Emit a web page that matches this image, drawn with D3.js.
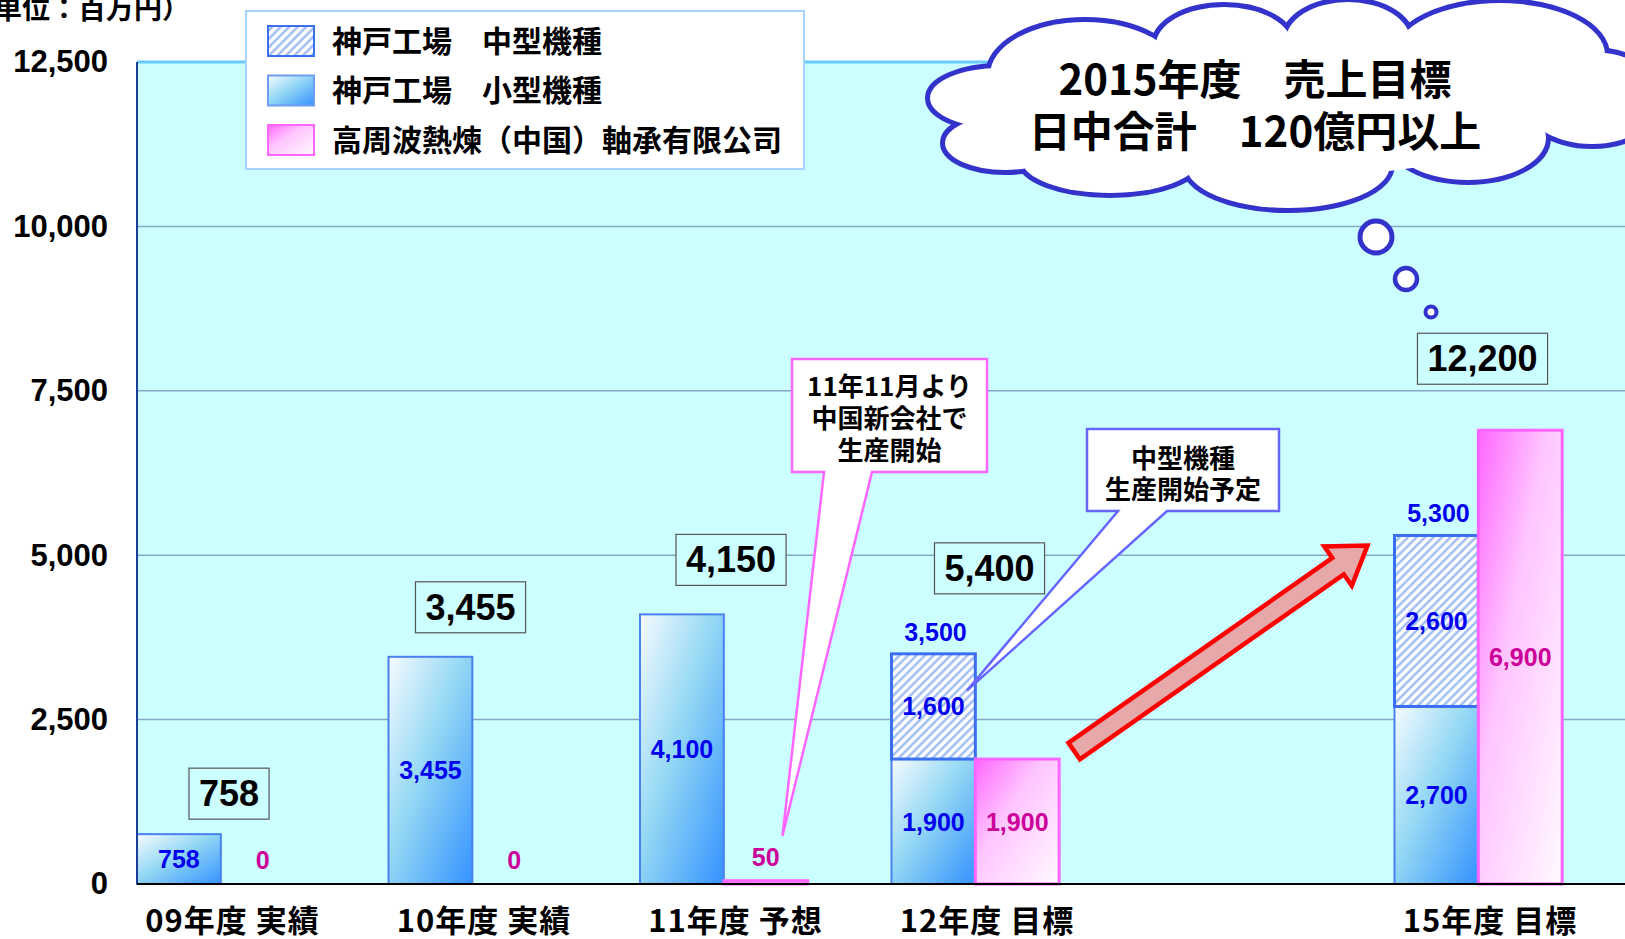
<!DOCTYPE html>
<html>
<head>
<meta charset="utf-8">
<script src="https://cdn.jsdelivr.net/npm/d3@7/dist/d3.min.js"></script>
<style>
  body { margin: 0; background: #fff; }
  svg text { font-family: "Liberation Sans", Arial, sans-serif; font-weight: bold; }
  svg text.jp { font-family: "Noto Sans CJK JP", sans-serif; font-weight: bold; }
</style>
</head>
<body>
<div id="chart"></div>
<script>
// ---- data ----
var years = ["09", "10", "11", "12", "15"];
var bandKeys = ["09", "10", "11", "12", "13-14", "15"];   // 13-14 is an empty slot
var categories = ["09年度 実績", "10年度 実績", "11年度 予想", "12年度 目標", "15年度 目標"];
var kobeSmall = [758, 3455, 4100, 1900, 2700];
var kobeMid = [0, 0, 0, 1600, 2600];
var china = [0, 0, 50, 1900, 6900];
var totals = [758, 3455, 4150, 5400, 12200];
var yTicks = [0, 2500, 5000, 7500, 10000, 12500];
var seriesNames = ["神戸工場　中型機種", "神戸工場　小型機種", "高周波熱煉（中国）軸承有限公司"];
var unitLabel = "（単位：百万円）";
var chinaNote = ["11年11月より", "中国新会社で", "生産開始"];
var midNote = ["中型機種", "生産開始予定"];
var cloudText = ["2015年度　売上目標", "日中合計　120億円以上"];

// ---- layout ----
var fullwidth = 1625, fullheight = 939;
var margin = {top: 62, left: 137, bottom: 55};
var plotBottom = fullheight - margin.bottom;
var boxGap = [15, 24, 29, 60, 46];   // space between stack top and total box
var boxShift = [4, -6, 3, 10, 0];     // small horizontal nudges of the total boxes

var svg = d3.select("#chart").append("svg")
    .attr("width", fullwidth)
    .attr("height", fullheight);

var xScale = d3.scaleBand()
    .domain(bandKeys)
    .range([margin.left, margin.left + 6 * 251.5])
    .padding(0);
var bw = xScale.bandwidth() / 3;

var yScale = d3.scaleLinear()
    .domain([0, 12500])
    .range([plotBottom, margin.top]);

var fmt = d3.format(",");

// gradients + hatch
var defs = svg.append("defs");
var bg = defs.append("linearGradient").attr("id", "blueGrad")
    .attr("x1", 0).attr("y1", 0).attr("x2", 1).attr("y2", 1);
bg.append("stop").attr("offset", "0%").attr("stop-color", "#f6fbff");
bg.append("stop").attr("offset", "45%").attr("stop-color", "#94d8f4");
bg.append("stop").attr("offset", "100%").attr("stop-color", "#3592ff");

var pg = defs.append("linearGradient").attr("id", "pinkGrad")
    .attr("x1", 0).attr("y1", 0).attr("x2", 1).attr("y2", 1);
pg.append("stop").attr("offset", "0%").attr("stop-color", "#ff66ff");
pg.append("stop").attr("offset", "40%").attr("stop-color", "#ffc4ff");
pg.append("stop").attr("offset", "100%").attr("stop-color", "#fffaff");

var hatch = defs.append("pattern").attr("id", "hatch")
    .attr("patternUnits", "userSpaceOnUse")
    .attr("width", 6).attr("height", 6)
    .attr("patternTransform", "rotate(45)");
hatch.append("rect").attr("width", 6).attr("height", 6).attr("fill", "#ffffff");
hatch.append("line").attr("x1", 1.5).attr("y1", 0).attr("x2", 1.5).attr("y2", 6)
    .attr("stroke", "#95b4f4").attr("stroke-width", 2.2);

// plot background
svg.append("rect")
    .attr("x", margin.left).attr("y", margin.top)
    .attr("width", fullwidth - margin.left)
    .attr("height", plotBottom - margin.top)
    .attr("fill", "#ccffff");

// grid
svg.append("g").selectAll("line.grid")
    .data(yTicks.filter(function(d) { return d > 0 && d < 12500; }))
    .enter().append("line")
    .attr("class", "grid")
    .attr("x1", margin.left).attr("x2", fullwidth)
    .attr("y1", function(d) { return yScale(d); })
    .attr("y2", function(d) { return yScale(d); })
    .attr("stroke", "#86a6c8").attr("stroke-width", 1.5);

svg.append("line")
    .attr("x1", margin.left).attr("x2", fullwidth)
    .attr("y1", yScale(12500)).attr("y2", yScale(12500))
    .attr("stroke", "#66ccff").attr("stroke-width", 3);

// bars
var bars = svg.append("g");
years.forEach(function(k, i) {
    var x0 = xScale(k);
    bars.append("rect")
        .attr("x", x0).attr("y", yScale(kobeSmall[i]))
        .attr("width", bw).attr("height", yScale(0) - yScale(kobeSmall[i]))
        .attr("fill", "url(#blueGrad)")
        .attr("stroke", "#4a80f0").attr("stroke-width", 2);
    if (kobeMid[i] > 0) {
        bars.append("rect")
            .attr("x", x0).attr("y", yScale(kobeSmall[i] + kobeMid[i]))
            .attr("width", bw)
            .attr("height", yScale(kobeSmall[i]) - yScale(kobeSmall[i] + kobeMid[i]))
            .attr("fill", "url(#hatch)")
            .attr("stroke", "#3b6ff0").attr("stroke-width", 3);
    }
    if (china[i] > 0) {
        bars.append("rect")
            .attr("x", x0 + bw).attr("y", yScale(china[i]))
            .attr("width", bw).attr("height", yScale(0) - yScale(china[i]))
            .attr("fill", "url(#pinkGrad)")
            .attr("stroke", "#ff66ff").attr("stroke-width", 3);
    }
});

// value labels
var labels = svg.append("g").attr("font-size", 25);
years.forEach(function(k, i) {
    var cx = xScale(k) + bw / 2;
    labels.append("text")
        .attr("x", cx).attr("y", yScale(kobeSmall[i] / 2)).attr("dy", "0.36em")
        .attr("text-anchor", "middle").attr("fill", "#0000ee")
        .text(fmt(kobeSmall[i]));
    if (kobeMid[i] > 0) {
        labels.append("text")
            .attr("x", cx).attr("y", yScale(kobeSmall[i] + kobeMid[i] / 2)).attr("dy", "0.36em")
            .attr("text-anchor", "middle").attr("fill", "#0000ee")
            .text(fmt(kobeMid[i]));
        labels.append("text")
            .attr("x", cx + 2).attr("y", yScale(kobeSmall[i] + kobeMid[i]) - 22).attr("dy", "0.36em")
            .attr("text-anchor", "middle").attr("fill", "#0000ee")
            .text(fmt(kobeSmall[i] + kobeMid[i]));
    }
    var cy = china[i] >= 500 ? yScale(china[i] / 2) : yScale(china[i]) - 24;
    labels.append("text")
        .attr("x", cx + bw).attr("y", cy).attr("dy", "0.36em")
        .attr("text-anchor", "middle").attr("fill", "#cc0099")
        .text(fmt(china[i]));
});

// total boxes
years.forEach(function(k, i) {
    var cx = xScale(k) + xScale.bandwidth() * 0.35 + boxShift[i];
    var top = yScale(Math.max(kobeSmall[i] + kobeMid[i], china[i]));
    var bottom = top - boxGap[i];
    var g = svg.append("g");
    var t = g.append("text")
        .attr("x", cx).attr("y", bottom - 13)
        .attr("text-anchor", "middle").attr("font-size", 36)
        .attr("fill", "#000")
        .text(fmt(totals[i]));
    var bb = t.node().getBBox();
    g.insert("rect", "text")
        .attr("x", bb.x - 10).attr("y", bottom - 51)
        .attr("width", bb.width + 20).attr("height", 51)
        .attr("fill", "#ccffff")
        .attr("stroke", "#555").attr("stroke-width", 1.2);
});

// callouts
function callout(box, base, tip, stroke, lines, size, firstBase, step) {
    var pts = [[box[0], box[1]], [box[2], box[1]], [box[2], box[3]],
               [base[1], box[3]], tip, [base[0], box[3]], [box[0], box[3]]];
    svg.append("path")
        .attr("d", "M" + pts.join("L") + "Z")
        .attr("fill", "#fff").attr("stroke", stroke).attr("stroke-width", 2.5)
        .attr("stroke-linejoin", "miter");
    svg.append("g").selectAll("text")
        .data(lines).enter().append("text")
        .attr("class", "jp")
        .attr("x", (box[0] + box[2]) / 2)
        .attr("y", function(d, j) { return firstBase + j * step; })
        .attr("text-anchor", "middle").attr("font-size", size)
        .attr("fill", "#000")
        .text(function(d) { return d; });
}

callout([792, 359, 987, 472], [824, 872],
        [xScale("11") + bw * 1.7, yScale(china[2]) - 45],
        "#ff66ff", chinaNote, 26, 396, 32);
callout([1087, 429, 1279, 511], [1118, 1167],
        [xScale("12") + bw * 0.9, yScale(kobeSmall[3] + kobeMid[3] * 0.65)],
        "#6666ff", midNote, 26, 468, 31);

// red arrow
(function() {
    var tail = [xScale("12") + 2 * bw + 15, yScale(china[3]) - 8];
    var tip = [xScale("15") - 27, yScale(kobeSmall[4] + kobeMid[4]) + 10];
    var dx = tip[0] - tail[0], dy = tip[1] - tail[1];
    var len = Math.sqrt(dx * dx + dy * dy);
    var ux = dx / len, uy = dy / len, nx = -uy, ny = ux;
    var sw = 10, hw = 24, hl = 36;
    function p(a, b) { return [tail[0] + ux * a + nx * b, tail[1] + uy * a + ny * b]; }
    var pts = [p(0, -sw), p(len - hl, -sw), p(len - hl, -hw), p(len, 0),
               p(len - hl, hw), p(len - hl, sw), p(0, sw)];
    svg.append("path")
        .attr("d", "M" + pts.join("L") + "Z")
        .attr("fill", "#e6a8a8").attr("stroke", "#ff0000")
        .attr("stroke-width", 4.5).attr("stroke-linejoin", "miter");
})();

// legend
var legend = svg.append("g");
legend.append("rect")
    .attr("x", 246).attr("y", 11).attr("width", 558).attr("height", 158)
    .attr("fill", "#fff").attr("stroke", "#a8d2ff").attr("stroke-width", 2);
var swFill = ["url(#hatch)", "url(#blueGrad)", "url(#pinkGrad)"];
var swStroke = ["#3b6ff0", "#6f9cf5", "#ff66ff"];
seriesNames.forEach(function(name, j) {
    var cy = 41 + j * 49.5;
    legend.append("rect")
        .attr("x", 268).attr("y", cy - 15).attr("width", 46).attr("height", 30)
        .attr("fill", swFill[j]).attr("stroke", swStroke[j]).attr("stroke-width", 2);
    legend.append("text")
        .attr("class", "jp")
        .attr("x", 332).attr("y", cy).attr("dy", "0.36em")
        .attr("font-size", 30).attr("fill", "#000")
        .text(name);
});

// thought cloud
var lobes = [
    [1000, 98, 70, 30], [1005, 143, 60, 27], [1110, 160, 88, 33],
    [1288, 165, 102, 43], [1468, 138, 78, 42], [1592, 98, 70, 46],
    [1500, 55, 105, 52], [1348, 40, 62, 38], [1224, 45, 68, 38],
    [1085, 75, 95, 53]
];
var cloud = svg.append("g");
cloud.selectAll("ellipse.edge").data(lobes).enter().append("ellipse")
    .attr("class", "edge")
    .attr("cx", function(d) { return d[0]; }).attr("cy", function(d) { return d[1]; })
    .attr("rx", function(d) { return d[2]; }).attr("ry", function(d) { return d[3]; })
    .attr("fill", "#fff").attr("stroke", "#3333cc").attr("stroke-width", 10);
cloud.selectAll("ellipse.fill").data(lobes.concat([[1280, 105, 275, 72]])).enter().append("ellipse")
    .attr("class", "fill")
    .attr("cx", function(d) { return d[0]; }).attr("cy", function(d) { return d[1]; })
    .attr("rx", function(d) { return d[2]; }).attr("ry", function(d) { return d[3]; })
    .attr("fill", "#fff");
cloud.selectAll("text").data(cloudText).enter().append("text")
    .attr("class", "jp")
    .attr("x", 1255).attr("y", function(d, j) { return 95 + j * 52; })
    .attr("text-anchor", "middle").attr("font-size", 42).attr("fill", "#000")
    .text(function(d) { return d; });

var bubbles = [[1376, 237, 16, 5], [1406, 279, 11, 4.5], [1431, 312, 5.5, 4]];
svg.selectAll("circle.bubble").data(bubbles).enter().append("circle")
    .attr("class", "bubble")
    .attr("cx", function(d) { return d[0]; }).attr("cy", function(d) { return d[1]; })
    .attr("r", function(d) { return d[2]; })
    .attr("fill", "#fff").attr("stroke", "#3333cc")
    .attr("stroke-width", function(d) { return d[3]; });

// axes
var yAxis = d3.axisLeft(yScale).tickValues(yTicks).tickSize(0).tickPadding(29).tickFormat(fmt);
var yg = svg.append("g")
    .attr("transform", "translate(" + margin.left + ",0)")
    .call(yAxis);
yg.select(".domain").remove();
yg.selectAll("text")
    .attr("font-size", 31).attr("fill", "#000")
    .attr("font-family", "Liberation Sans, Arial, sans-serif");

svg.append("line")
    .attr("x1", margin.left).attr("x2", margin.left)
    .attr("y1", margin.top).attr("y2", plotBottom)
    .attr("stroke", "#1a3d9a").attr("stroke-width", 2);
svg.append("line")
    .attr("x1", margin.left).attr("x2", fullwidth)
    .attr("y1", plotBottom).attr("y2", plotBottom)
    .attr("stroke", "#000").attr("stroke-width", 2);

svg.append("g").selectAll("text.xlab")
    .data(years).enter().append("text")
    .attr("class", "jp xlab")
    .attr("x", function(d) { return xScale(d) + xScale.bandwidth() * 0.38; })
    .attr("y", 932)
    .attr("text-anchor", "middle").attr("font-size", 31)
    .attr("letter-spacing", 1).attr("fill", "#000")
    .text(function(d, i) { return categories[i]; });

svg.append("text")
    .attr("class", "jp")
    .attr("x", 190).attr("y", 19)
    .attr("text-anchor", "end").attr("font-size", 28).attr("fill", "#000")
    .text(unitLabel);
</script>
</body>
</html>
